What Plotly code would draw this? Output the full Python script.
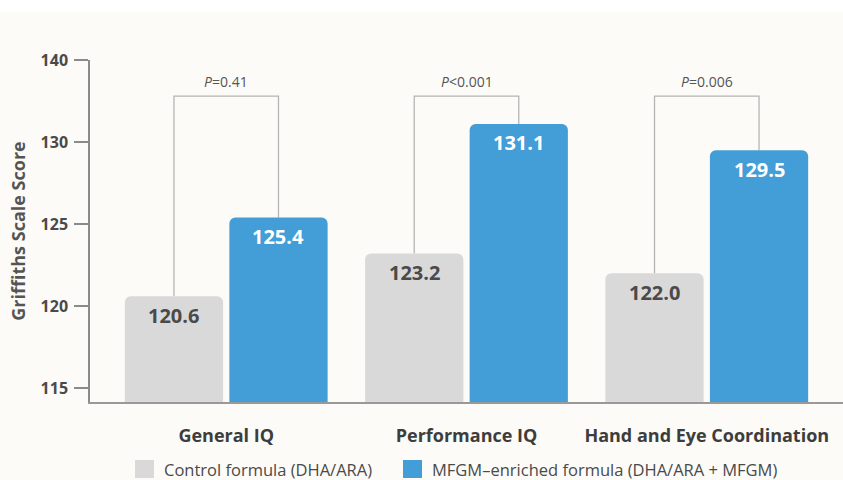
import plotly.graph_objects as go

categories = ["General IQ", "Performance IQ", "Hand and Eye Coordination"]
control = [120.6, 123.2, 122.0]
mfgm = [125.4, 131.1, 129.5]
p_values = ["=0.41", "<0.001", "=0.006"]
series_names = ["Control formula (DHA/ARA)", "MFGM\u2013enriched formula (DHA/ARA + MFGM)"]
y_tickvals = [115, 120, 125, 130, 135]
y_ticktext = ["115", "120", "125", "130", "140"]

FONT = "Open Sans, sans-serif"
GRAY = "#d9d9d9"
BLUE = "#439dd7"
TXT = "#4a4a4a"
colors = [GRAY, BLUE]

x = list(range(len(categories)))
off = 0.2175
bracket_y = 132.8

fig = go.Figure()
fig.add_trace(go.Bar(x=x, y=control, name=series_names[0], marker=dict(color=GRAY, cornerradius=6, line=dict(width=0))))
fig.add_trace(go.Bar(x=x, y=mfgm, name=series_names[1], marker=dict(color=BLUE, cornerradius=6, line=dict(width=0))))

shapes = []
annotations = []
for i in x:
    shapes.append(dict(type="path", xref="x", yref="y",
                       path=f"M {i-off},{control[i]} L {i-off},{bracket_y} L {i+off},{bracket_y} L {i+off},{mfgm[i]}",
                       line=dict(color="#b5b5b5", width=1.3), layer="below"))
    annotations.append(dict(x=i, y=bracket_y, xref="x", yref="y", yanchor="bottom", yshift=3, showarrow=False,
                            text=f"<i>P</i>{p_values[i]}", font=dict(family=FONT, size=14, color="#555555")))
    annotations.append(dict(x=i - off, y=control[i], xref="x", yref="y", yanchor="middle", yshift=-19, showarrow=False,
                            text=f"<b>{control[i]:.1f}</b>", font=dict(family=FONT, size=20, color="#4a4a4a")))
    annotations.append(dict(x=i + off, y=mfgm[i], xref="x", yref="y", yanchor="middle", yshift=-19, showarrow=False,
                            text=f"<b>{mfgm[i]:.1f}</b>", font=dict(family=FONT, size=20, color="#ffffff")))

# custom legend (large square swatches)
legend_x = [0.0598, 0.4157]
for k, name in enumerate(series_names):
    shapes.append(dict(type="rect", xref="paper", yref="paper", x0=legend_x[k], x1=legend_x[k] + 0.0252,
                       y0=-0.2222, y1=-0.1696, fillcolor=colors[k], line=dict(width=0)))
    annotations.append(dict(x=legend_x[k] + 0.0358, y=-0.196, xref="paper", yref="paper", xanchor="left",
                            yanchor="middle", showarrow=False, text=name,
                            font=dict(family=FONT, size=16.5, color="#4a4a4a")))

# white band at top of page
shapes.append(dict(type="rect", xref="paper", yref="paper", x0=-0.2, x1=1.1, y0=1.14, y1=1.3,
                   fillcolor="#ffffff", line=dict(width=0), layer="below"))

fig.update_layout(
    width=843, height=480,
    margin=dict(l=90, r=0, t=60, b=78),
    paper_bgcolor="#fcfbf7", plot_bgcolor="#fcfbf7",
    barmode="group", bargap=0.13, bargroupgap=0.06,
    font=dict(family=FONT, color=TXT),
    shapes=shapes, annotations=annotations,
    showlegend=False,
    xaxis=dict(range=[-0.567, 2.567], tickvals=x, ticktext=[f"<b>{c}</b>" for c in categories],
               tickfont=dict(family=FONT, size=18, color="#3d3d3d"), showgrid=False, zeroline=False,
               showline=True, linecolor="#999999", linewidth=2, ticks="", ticklabelstandoff=16),
    yaxis=dict(range=[114.15, 135], tickvals=y_tickvals, ticktext=[f"<b>{t}</b>" for t in y_ticktext],
               tickfont=dict(family=FONT, size=16, color="#4a4a4a"), showgrid=False, zeroline=False,
               showline=True, linecolor="#8a8a8a", linewidth=1.5, ticks="outside", ticklen=14,
               tickcolor="#8a8a8a", tickwidth=1.5, ticklabelstandoff=3,
               title=dict(text="<b>Griffiths Scale Score</b>", font=dict(family=FONT, size=18, color="#555555"), standoff=10)),
)

fig.write_html("out.html")
